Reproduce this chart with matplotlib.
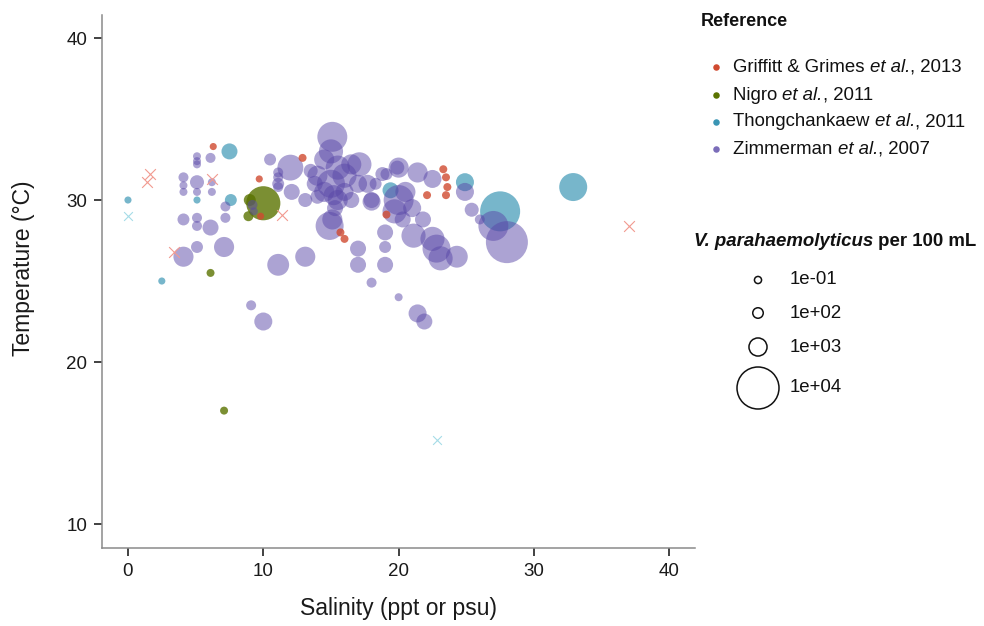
import numpy as np
import matplotlib
matplotlib.use("Agg")
import matplotlib.pyplot as plt

plt.rcParams['font.family'] = ['Liberation Sans', 'DejaVu Sans']

# ---- data: salinity (ppt), temperature (C), V. parahaemolyticus per 100 mL ----
griffitt_sal = [6.3, 9.7, 12.9, 9.8, 15.7, 16.0, 19.1, 22.1, 23.3, 23.5, 23.6, 23.5]
griffitt_temp = [33.3, 31.3, 32.6, 29.0, 28.0, 27.6, 29.1, 30.3, 31.9, 31.4, 30.8, 30.3]
griffitt_vp = [0.1, 0.1, 8, 0.1, 8, 8, 8, 8, 8, 8, 8, 8]
# samples without a count (drawn as crosses)
griffitt_na_sal = [1.6, 1.4, 6.2, 11.4, 3.4, 37.0]
griffitt_na_temp = [31.6, 31.1, 31.3, 29.1, 26.8, 28.4]

nigro_sal = [10.0, 9.0, 8.9, 6.1, 7.1]
nigro_temp = [29.8, 30.0, 29.0, 25.5, 17.0]
nigro_vp = [6000, 200, 73, 8, 8]

thong_sal = [0.0, 2.5, 5.1, 7.6, 7.5, 19.4, 24.9, 27.5, 32.9]
thong_temp = [30.0, 25.0, 30.0, 30.0, 33.0, 30.6, 31.1, 29.3, 30.8]
thong_vp = [0.1, 0.1, 0.1, 200, 660, 660, 990, 8900, 3600]
thong_na_sal = [0.0, 22.8]
thong_na_temp = [29.0, 15.2]

zimm_sal = [5.1, 5.1, 5.1, 6.1, 4.1, 5.1, 6.2, 4.1, 4.1, 5.1, 6.2, 7.2, 7.2, 9.2, 9.3,
            11.1, 11.1, 12.1, 10.5, 12.0, 4.1, 5.1, 5.1, 6.1, 5.1, 7.1, 4.1, 11.1, 13.1,
            9.1, 10.0, 15.1, 11.1, 11.1, 13.1, 17.1, 18.0, 15.1, 18.3, 19.1, 19.9, 15.2,
            14.9, 17.0, 17.0, 18.0, 19.0, 19.0, 19.0, 20.0, 21.4, 21.9, 20.0, 21.4, 20.0,
            19.7, 22.5, 24.9, 25.4, 26.0, 27.0, 28.0, 21.8, 21.1, 22.5, 22.8, 23.1, 24.3,
            18.8, 17.7, 18.0, 14.5, 15.0, 15.5, 14.0, 15.0, 16.0, 16.5, 14.5, 15.5, 16.0,
            13.8, 17.0, 16.5, 14.0, 15.3, 13.5, 20.5, 21.0, 20.3]
zimm_temp = [32.7, 32.4, 32.2, 32.6, 31.4, 31.1, 31.1, 30.9, 30.5, 30.5, 30.5, 29.6, 28.9,
             29.7, 29.3, 31.4, 31.0, 30.5, 32.5, 32.0, 28.8, 28.9, 28.4, 28.3, 27.1, 27.1,
             26.5, 26.0, 26.5, 23.5, 22.5, 33.9, 31.7, 30.8, 30.0, 32.2, 30.0, 28.8, 31.0,
             31.6, 32.0, 30.3, 28.4, 27.0, 26.0, 24.9, 28.0, 27.1, 26.0, 24.0, 23.0, 22.5,
             32.0, 31.7, 30.0, 29.3, 31.3, 30.5, 29.4, 28.8, 28.4, 27.4, 28.8, 27.8, 27.6,
             27.0, 26.4, 26.5, 31.6, 31.0, 29.9, 32.5, 33.0, 32.0, 31.5, 31.0, 31.5, 32.2,
             30.5, 30.0, 30.5, 31.0, 31.0, 30.0, 30.2, 29.5, 31.8, 30.5, 29.5, 28.8]
zimm_vp = [8, 8, 8, 73, 73, 400, 8, 8, 8, 8, 8, 73, 73, 73, 8,
           73, 200, 660, 200, 2900, 200, 73, 73, 660, 200, 1400, 1400, 1800, 1400,
           73, 990, 4300, 73, 73, 400, 2400, 660, 1400, 200, 200, 400, 1400,
           3600, 660, 660, 73, 660, 200, 660, 8, 990, 660, 1400, 1400, 4300,
           2400, 990, 990, 400, 73, 4300, 10000, 660, 2400, 2400, 3600, 2400, 1800,
           400, 990, 990, 1400, 2400, 2400, 1400, 3600, 2400, 1400, 1400, 1400, 990,
           660, 990, 660, 400, 660, 400, 1400, 990, 660]

ref_authors = ['Griffitt & Grimes ', 'Nigro ', 'Thongchankaew ', 'Zimmerman ']
ref_years = [', 2013', ', 2011', ', 2011', ', 2007']
ref_colors = ['#d04a30', '#5a7300', '#2f8fb0', '#5a48a8']
ref_alpha = [0.8, 0.8, 0.65, 0.5]
size_breaks = [0.1, 100, 1000, 10000]
size_labels = ['1e-01', '1e+02', '1e+03', '1e+04']

W, H, DPI = 984, 626, 100


def radius_px(v):
    return 3.5 * (1 + 5 * np.sqrt(np.asarray(v, dtype=float) / 1e4))


def marker_area(v):
    return (2 * radius_px(v) * 72 / DPI) ** 2


fig = plt.figure(figsize=(W / DPI, H / DPI), dpi=DPI)
ax = fig.add_axes([102 / W, 1 - 548 / H, 593 / W, 533 / H])

groups = [(nigro_sal, nigro_temp, nigro_vp, 1), (thong_sal, thong_temp, thong_vp, 2),
          (zimm_sal, zimm_temp, zimm_vp, 3), (griffitt_sal, griffitt_temp, griffitt_vp, 0)]
for sal, temp, vp, k in groups:
    ax.scatter(sal, temp, s=marker_area(vp), color=ref_colors[k], alpha=ref_alpha[k],
               linewidths=0, zorder=2)

ax.scatter(griffitt_na_sal, griffitt_na_temp, marker='x', s=60, color='#f29a90',
           linewidths=0.8, zorder=3)
ax.scatter(thong_na_sal, thong_na_temp, marker='x', s=40, color='#a6dce8',
           linewidths=0.8, zorder=3)

ax.set_xlim(-1.92, 41.9)
ax.set_ylim(8.52, 41.42)
ax.set_xticks([0, 10, 20, 30, 40])
ax.set_yticks([10, 20, 30, 40])
for side in ['top', 'right']:
    ax.spines[side].set_visible(False)
for side in ['left', 'bottom']:
    ax.spines[side].set_color('#8a8a8a')
    ax.spines[side].set_linewidth(1.1)
ax.tick_params(length=5.5, width=1.3, color='#333333', labelsize=13.5,
               labelcolor='#1a1a1a', pad=5)

ax.set_xlabel('Salinity (ppt or psu)', fontsize=16.5, va='center', color='#1a1a1a')
ax.set_ylabel('Temperature (°C)', fontsize=16.5, va='center', color='#1a1a1a')
ax.xaxis.set_label_coords(0.5, -0.113)
ax.yaxis.set_label_coords(-0.133, 0.525)

# ---- legends, drawn in a pixel-space overlay ----
lax = fig.add_axes([0, 0, 1, 1])
lax.set_xlim(0, W)
lax.set_ylim(H, 0)
lax.axis('off')

lax.text(701, 21, 'Reference', fontsize=13, fontweight='bold', va='center', color='#111111')
ref_rows = [67, 95, 122, 149]
for k in range(4):
    lax.scatter([716], [ref_rows[k]], s=22, color=ref_colors[k],
                alpha=min(1, ref_alpha[k] + 0.3), linewidths=0)
    t = lax.text(733, ref_rows[k], ref_authors[k], fontsize=13.4, va='center', color='#111111')
    t = lax.annotate('et al.', xy=(1, 0), xycoords=t, va='bottom', ha='left',
                     fontsize=13.4, fontstyle='italic', color='#111111')
    lax.annotate(ref_years[k], xy=(1, 0), xycoords=t, va='bottom', ha='left',
                 fontsize=13.4, color='#111111')

t1 = lax.text(694, 241, 'V. parahaemolyticus', fontsize=13.4, fontweight='bold',
              fontstyle='italic', va='center', color='#111111')
lax.annotate(' per 100 mL', xy=(1, 0), xycoords=t1, va='bottom', ha='left',
             fontsize=13.4, fontweight='bold', color='#111111')
size_rows = [280, 313, 347, 388]
for k in range(4):
    lax.scatter([758], [size_rows[k]], s=marker_area(size_breaks[k]), facecolors='none',
                edgecolors='#111111', linewidths=1.1)
    lax.text(790, size_rows[k], size_labels[k], fontsize=13.4, va='center', color='#111111')

fig.savefig('out.png', dpi=DPI)
